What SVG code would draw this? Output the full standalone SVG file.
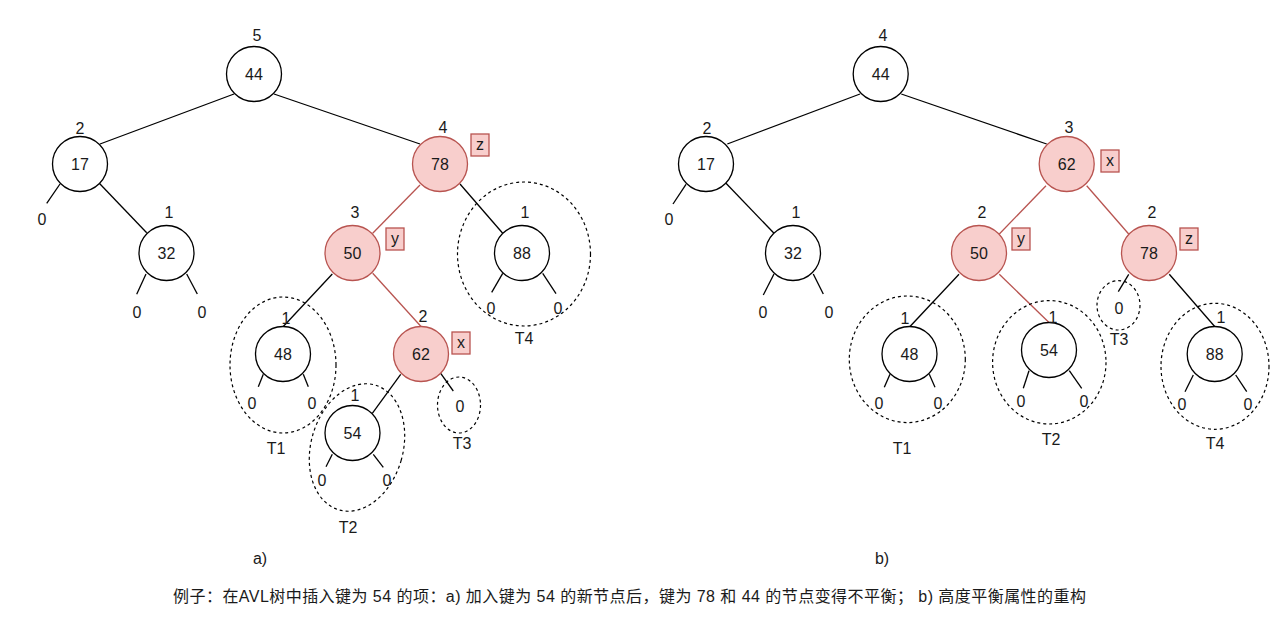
<svg xmlns="http://www.w3.org/2000/svg" width="1286" height="626" viewBox="0 0 1286 626">
<style>
text{font-family:"Liberation Sans",Arial,sans-serif;font-size:16px;fill:#1a1a1a;text-anchor:middle;dominant-baseline:central}
.cap{font-family:"Liberation Sans","Noto Sans CJK SC",sans-serif;font-size:16px;text-anchor:start}
.n{fill:#fff;stroke:#000;stroke-width:1.3}
.r{fill:#f8cecc;stroke:#b85450;stroke-width:1.3}
.e{stroke:#000;stroke-width:1.3;fill:none}
.er{stroke:#b85450;stroke-width:1.3;fill:none}
.d{fill:none;stroke:#000;stroke-width:1.2;stroke-dasharray:3 3}
.tag{fill:#f8cecc;stroke:#b85450;stroke-width:1.3}
</style>
<rect width="1286" height="626" fill="#fff"/>
<g id="connectors">
<!-- left tree -->
<line class="e" x1="234" y1="94" x2="100" y2="144"/>
<line class="e" x1="99.3" y1="183.3" x2="146.7" y2="232.7"/>
<line class="e" x1="274" y1="94" x2="420" y2="144"/>
<line class="er" x1="420" y1="185" x2="372.7" y2="233.3"/>
<line class="e" x1="460" y1="184" x2="502.7" y2="233.3"/>
<line class="e" x1="332.3" y1="274" x2="283.3" y2="326.5"/>
<line class="er" x1="372.7" y1="273.3" x2="421" y2="326.5"/>
<line class="e" x1="400.7" y1="374.3" x2="372.3" y2="413.3"/>
<!-- left stubs -->
<line class="e" x1="60" y1="184" x2="46.7" y2="203.3"/>
<line class="e" x1="146" y1="274" x2="136.7" y2="294.3"/>
<line class="e" x1="186.7" y1="274" x2="197.3" y2="294"/>
<line class="e" x1="502.7" y1="273.3" x2="491.7" y2="292.3"/>
<line class="e" x1="542.7" y1="273.3" x2="556" y2="293.7"/>
<line class="e" x1="263.3" y1="374.3" x2="258.3" y2="386.7"/>
<line class="e" x1="303.3" y1="374.3" x2="308.3" y2="386.7"/>
<line class="e" x1="332.3" y1="454.3" x2="326" y2="466.7"/>
<line class="e" x1="373.3" y1="454.3" x2="383.3" y2="467.3"/>
<line class="e" x1="440.7" y1="373.3" x2="453.3" y2="391"/>
<!-- right tree -->
<line class="e" x1="860" y1="94" x2="727.3" y2="144"/>
<line class="e" x1="726" y1="183.3" x2="774" y2="233.3"/>
<line class="e" x1="901.3" y1="94" x2="1046.7" y2="144"/>
<line class="er" x1="1046" y1="185.7" x2="999.3" y2="234"/>
<line class="er" x1="1086.7" y1="185.7" x2="1128.7" y2="234"/>
<line class="e" x1="959" y1="274.3" x2="910" y2="326.5"/>
<line class="er" x1="999.3" y1="274.3" x2="1049" y2="322.5"/>
<line class="e" x1="1169.3" y1="274.3" x2="1214.7" y2="326.5"/>
<!-- right stubs -->
<line class="e" x1="686" y1="184.3" x2="673" y2="204"/>
<line class="e" x1="774" y1="274" x2="763.3" y2="295"/>
<line class="e" x1="813.3" y1="274" x2="823.3" y2="294"/>
<line class="e" x1="890" y1="374.3" x2="884.3" y2="387.3"/>
<line class="e" x1="929.3" y1="374.3" x2="935" y2="387.3"/>
<line class="e" x1="1029" y1="370.7" x2="1023.3" y2="388.3"/>
<line class="e" x1="1069.3" y1="370.7" x2="1081.7" y2="388.3"/>
<line class="e" x1="1128.7" y1="274.3" x2="1118.3" y2="291.7"/>
<line class="e" x1="1193.3" y1="375" x2="1185" y2="391.7"/>
<line class="e" x1="1235.7" y1="375" x2="1246.7" y2="391.7"/>
</g>
<g id="subtrees">
<ellipse class="d" cx="283" cy="365" rx="53" ry="68"/>
<ellipse class="d" cx="357" cy="447.5" rx="46" ry="65" transform="rotate(16 357 447.5)"/>
<ellipse class="d" cx="459" cy="405" rx="21.5" ry="28"/>
<ellipse class="d" cx="524" cy="254" rx="66.5" ry="72"/>
<text x="276" y="448">T1</text>
<text x="348" y="527">T2</text>
<text x="462" y="443">T3</text>
<text x="524" y="338">T4</text>
<ellipse class="d" cx="907.3" cy="359.3" rx="58" ry="63.3"/>
<ellipse class="d" cx="1049.3" cy="362.3" rx="56.7" ry="61.7"/>
<ellipse class="d" cx="1118.5" cy="305.3" rx="21.5" ry="24.7"/>
<ellipse class="d" cx="1215" cy="366.3" rx="54" ry="63"/>
<text x="902" y="448">T1</text>
<text x="1051" y="439">T2</text>
<text x="1119" y="339">T3</text>
<text x="1215" y="443">T4</text>
</g>
<g id="left-44"><circle class="n" cx="254" cy="74" r="27.5"/><text x="254" y="74">44</text><text x="257" y="35">5</text></g>
<g id="left-17"><circle class="n" cx="80" cy="164" r="27.5"/><text x="80" y="164">17</text><text x="80" y="128">2</text><text x="42" y="219">0</text></g>
<g id="left-32"><circle class="n" cx="166.5" cy="253" r="27.5"/><text x="166.5" y="253">32</text><text x="169" y="212">1</text><text x="137" y="312">0</text><text x="202" y="312">0</text></g>
<g id="left-78"><circle class="r" cx="440" cy="164" r="27.5"/><text x="440" y="164">78</text><text x="443" y="127">4</text><rect class="tag" x="471" y="134" width="18" height="22"/><text x="480" y="144">z</text></g>
<g id="left-50"><circle class="r" cx="352.5" cy="253" r="27.5"/><text x="352.5" y="253">50</text><text x="355" y="212">3</text><rect class="tag" x="386" y="228" width="18" height="22"/><text x="395" y="238">y</text></g>
<g id="left-88"><circle class="n" cx="522" cy="253" r="27.5"/><text x="522" y="253">88</text><text x="525" y="212">1</text><text x="491" y="308">0</text><text x="558" y="308">0</text></g>
<g id="left-48"><circle class="n" cx="283" cy="354" r="27.5"/><text x="283" y="354">48</text><text x="286" y="318">1</text><text x="252" y="403">0</text><text x="312" y="403">0</text></g>
<g id="left-62"><circle class="r" cx="421" cy="354" r="27.5"/><text x="421" y="354">62</text><text x="423" y="316">2</text><rect class="tag" x="452" y="332" width="18" height="22"/><text x="461" y="342">x</text><text x="460" y="406">0</text></g>
<g id="left-54"><circle class="n" cx="352.5" cy="433" r="27.5"/><text x="352.5" y="433">54</text><text x="355" y="395">1</text><text x="322" y="480">0</text><text x="387" y="480">0</text></g>
<g id="right-44"><circle class="n" cx="880.7" cy="74" r="27.5"/><text x="880.7" y="74">44</text><text x="883" y="35">4</text></g>
<g id="right-17"><circle class="n" cx="706" cy="164" r="27.5"/><text x="706" y="164">17</text><text x="707" y="128">2</text><text x="669" y="219">0</text></g>
<g id="right-32"><circle class="n" cx="793" cy="253" r="27.5"/><text x="793" y="253">32</text><text x="796" y="212">1</text><text x="763" y="312">0</text><text x="829" y="312">0</text></g>
<g id="right-62"><circle class="r" cx="1066.7" cy="164" r="27.5"/><text x="1066.7" y="164">62</text><text x="1069" y="127">3</text><rect class="tag" x="1101" y="150" width="18" height="22"/><text x="1110" y="160">x</text></g>
<g id="right-50"><circle class="r" cx="979" cy="253" r="27.5"/><text x="979" y="253">50</text><text x="982" y="212">2</text><rect class="tag" x="1012" y="228" width="18" height="22"/><text x="1021" y="238">y</text></g>
<g id="right-78"><circle class="r" cx="1149" cy="253" r="27.5"/><text x="1149" y="253">78</text><text x="1152" y="212">2</text><rect class="tag" x="1180" y="228" width="18" height="22"/><text x="1189" y="238">z</text><text x="1119" y="308">0</text></g>
<g id="right-48"><circle class="n" cx="909.5" cy="354" r="27.5"/><text x="909.5" y="354">48</text><text x="905" y="318">1</text><text x="879" y="403">0</text><text x="938" y="403">0</text></g>
<g id="right-54"><circle class="n" cx="1049" cy="350" r="27.5"/><text x="1049" y="350">54</text><text x="1053" y="317">1</text><text x="1021" y="401">0</text><text x="1084" y="401">0</text></g>
<g id="right-88"><circle class="n" cx="1214.7" cy="354" r="27.5"/><text x="1214.7" y="354">88</text><text x="1221" y="317">1</text><text x="1182" y="404">0</text><text x="1248" y="404">0</text></g>
<g id="labels">
<text x="260" y="558">a)</text>
<text x="882" y="558">b)</text>
<text class="cap" x="173" y="596" textLength="913" lengthAdjust="spacing">例子：在AVL树中插入键为 54 的项：a) 加入键为 54 的新节点后，键为 78 和 44 的节点变得不平衡； b) 高度平衡属性的重构</text>
</g>
</svg>
